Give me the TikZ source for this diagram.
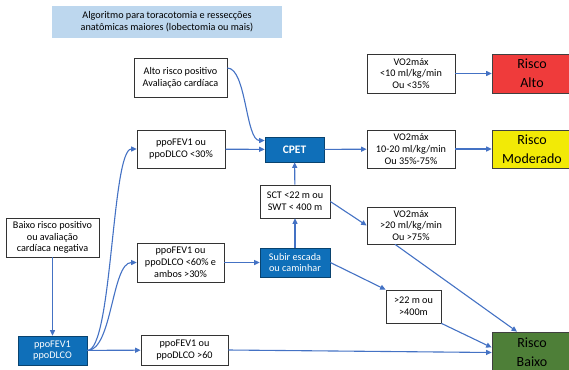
\documentclass[tikz,border=0pt]{standalone}
\usepackage{fontspec}
\setmainfont{Carlito}
\usepackage{xcolor}
\usepackage{tikz}
\usetikzlibrary{arrows.meta}

\definecolor{titlefill}{HTML}{BDD7EE}
\definecolor{boxblue}{HTML}{0F6FB9}
\definecolor{linkblue}{HTML}{4472C4}
\definecolor{riskred}{HTML}{EF3B3B}
\definecolor{riskyellow}{HTML}{F2EA06}
\definecolor{riskgreen}{HTML}{4E7F38}

\begin{document}
\begin{tikzpicture}[x=1pt, y=-1pt,
    every node/.style={font=\fontsize{10.2}{11.8}\selectfont, align=center, inner sep=1pt},
    box/.style={draw=black!80, fill=white, line width=0.7pt},
    bluebox/.style={draw=boxblue!60!black, fill=boxblue, text=white, line width=0.7pt},
    risk/.style={draw=black!75, line width=0.7pt, minimum width=80, minimum height=39,
        font=\fontsize{14}{19}\selectfont},
    link/.style={draw=linkblue, line width=1.1pt, -{Triangle[length=5.5pt,width=5pt]}}]
    \useasboundingbox (0,0) rectangle (569,369);
    % Title
    \node[fill=titlefill, minimum width=230, minimum height=32] (title) at (167,22)
        {Algoritmo para toracotomia e ressecções\\anatômicas maiores (lobectomia ou mais)};
    % Left column
    \node[box, minimum width=93, minimum height=39] (baixo) at (52.5,237.5)
        {Baixo risco positivo\\ou avaliação\\cardíaca negativa};
    \node[bluebox, minimum width=69, minimum height=29] (ppo) at (52.5,350.5) {ppoFEV1\\ppoDLCO};
    % ppo results
    \node[box, minimum width=93, minimum height=39] (alto) at (180.5,77.5)
        {Alto risco positivo\\Avaliação cardíaca};
    \node[box, minimum width=88, minimum height=38] (lt30) at (181,149) {ppoFEV1 ou\\ppoDLCO <30\%};
    \node[box, minimum width=87, minimum height=39] (lt60) at (180.5,262.5)
        {ppoFEV1 ou\\ppoDLCO <60\% e\\ambos >30\%};
    \node[box, minimum width=87, minimum height=30] (gt60) at (184.5,350) {ppoFEV1 ou\\ppoDLCO >60};
    % Tests
    \node[bluebox, minimum width=59, minimum height=25, font=\fontsize{11.5}{13}\selectfont\bfseries]
        (cpet) at (294.5,149.5) {CPET};
    \node[box, minimum width=70, minimum height=33] (sct) at (295,201.5) {SCT <22 m ou\\SWT < 400 m};
    \node[bluebox, minimum width=70, minimum height=29] (subir) at (295,262.5) {Subir escada\\ou caminhar};
    % VO2 results
    \node[box, minimum width=88, minimum height=39] (vo10) at (411,73.5) {VO2máx\\<10 ml/kg/min\\Ou <35\%};
    \node[box, minimum width=88, minimum height=38] (vo1020) at (411,149)
        {VO2máx\\10-20 ml/kg/min\\Ou 35\%-75\%};
    \node[box, minimum width=88, minimum height=37] (vo20) at (411,225.5) {VO2máx\\>20 ml/kg/min\\Ou >75\%};
    \node[box, minimum width=55, minimum height=33] (gt22) at (413.5,306.5) {>22 m ou\\>400m};
    % Risk
    \node[risk, fill=riskred] (ralto) at (532,73.5) {Risco\\Alto};
    \node[risk, fill=riskyellow, minimum height=38] (rmod) at (532,149) {Risco\\Moderado};
    \node[risk, fill=riskgreen, minimum height=41] (rbaixo) at (532,352.5) {Risco\\Baixo};
    % Connectors
    \draw[link] (baixo) -- (ppo);
    \draw[link] (ppo.east) .. controls +(25,0) and +(-25,0) .. (lt30.west);
    \draw[link] (ppo.east) .. controls +(25,0) and +(-25,0) .. (lt60.west);
    \draw[link] (ppo) -- (gt60);
    \draw[link] ([yshift=9.5pt]alto.east) .. controls +(19,0) and +(-19,0) .. ([yshift=9pt]cpet.west);
    \draw[link] (lt30) -- (cpet);
    \draw[link] (lt60) -- (subir);
    \draw[link] (subir) -- (sct);
    \draw[link] (sct) -- (cpet);
    \draw[link] (cpet) -- (vo1020);
    \draw[link] (vo10) -- (ralto);
    \draw[link] (vo1020) -- (rmod);
    \draw[link] (sct.east) -- (vo20.west);
    \draw[link] (subir.east) -- (gt22.north west);
    \draw[link] ([xshift=-16pt]vo20.south) -- ([xshift=-15pt]rbaixo.north);
    \draw[link] (gt22.south east) -- ([yshift=5pt]rbaixo.west);
    \draw[link] (gt60.east) -- (rbaixo.west);
\end{tikzpicture}
\end{document}
